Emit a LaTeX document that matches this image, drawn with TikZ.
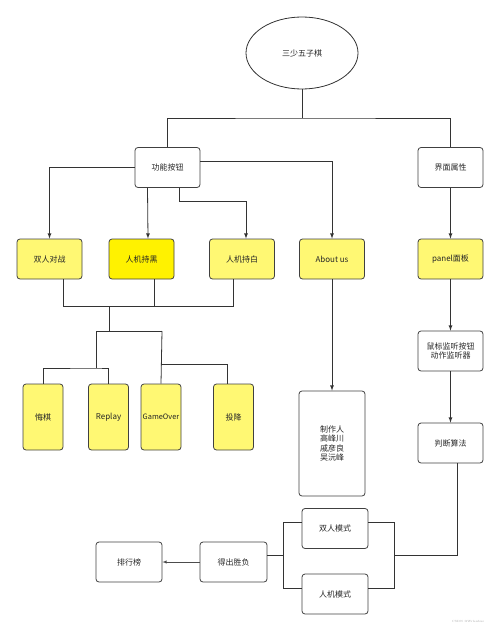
\documentclass[tikz,border=0pt]{standalone}
\usepackage{fontspec}
\newfontfamily\cjk{Noto Sans CJK SC}
\usetikzlibrary{arrows,shapes.geometric}
\begin{document}
\begin{tikzpicture}[x=1pt,y=-1pt,
	box/.style={draw=black!75,line width=0.8pt,rounded corners=3pt,minimum width=65pt,minimum height=40pt,inner sep=1pt,align=center,text=black!85,font=\cjk\fontsize{8}{9.5}\selectfont},
	pale/.style={box,fill=yellow!55},
	bright/.style={box,fill=yellow},
	tall/.style={pale,minimum width=40pt,minimum height=66pt,inner xsep=0pt},
	wire/.style={line width=0.8pt,black!80}]
\useasboundingbox (0,0) rectangle (500,631);
\node[draw=black!80,line width=0.8pt,ellipse,minimum width=112pt,minimum height=72pt,inner sep=0pt,text=black!85,font=\cjk\fontsize{8}{9.5}\selectfont] (game) at (302,53) {三少五子棋};
\node[box] (func) at (167.5,167.5) {功能按钮};
\node[box] (ui) at (450.5,167.5) {界面属性};
\node[pale] (pvp) at (49.5,259) {双人对战};
\node[bright] (black) at (141.5,259) {人机持黑};
\node[pale] (white) at (242,259) {人机持白};
\node[pale] (about) at (332,259) {About us};
\node[pale] (panel) at (450.5,259) {panel面板};
\node[tall] (undo) at (43,417) {悔棋};
\node[tall] (replay) at (108.5,417) {Replay};
\node[tall,text width=40pt,font=\cjk\fontsize{7.4}{9}\selectfont] (over) at (161,417) {GameOver};
\node[tall] (giveup) at (233.5,417) {投降};
\node[box,minimum width=66pt,minimum height=105pt] (makers) at (332,443.5) {制作人\\高峰川\\戚彦良\\吴沅峰};
\node[box] (listen) at (450.5,351) {鼠标监听按钮\\动作监听器};
\node[box] (judge) at (450.5,443) {判断算法};
\node[box,minimum width=66pt] (twop) at (335,528.5) {双人模式};
\node[box,minimum width=66pt] (ai) at (335,594) {人机模式};
\node[box,minimum width=67pt] (result) at (233.5,562) {得出胜负};
\node[box,minimum width=66pt] (rank) at (129,562) {排行榜};
\node[text=black!35,font=\fontsize{3}{4}\selectfont] (mark) at (468,621) {CSDN @Wrlenbus};
\coordinate (split) at (302,118);
\coordinate (hub) at (109,306);
\coordinate (fa) at (96,331);
\coordinate (fb) at (162,331);
\coordinate (ga) at (96,368);
\coordinate (gb) at (162,364);
\coordinate (ja) at (283,555);
\coordinate (jb) at (394,555);
\draw [wire](game)--(split);
\draw [wire](func.north)|-(split)-|(ui.north);
\draw [wire,->,>=latex,](func.west)-|(pvp.north);
\draw [wire,->,>=latex,]([xshift=-20pt]func.south)--([xshift=6.5pt]black.north);
\draw [wire,->,>=latex,]([xshift=12pt]func.south)--++(0,13)-|([xshift=4pt]white.north);
\draw [wire,->,>=latex,]([yshift=6.5pt]func.east)-|(about.north);
\draw [wire,->,>=latex,](ui)--(panel);
\draw [wire,->,>=latex,](about)--(makers);
\draw [wire,->,>=latex,](panel)--(listen);
\draw [wire,->,>=latex,](listen)--(judge);
\draw [wire]([xshift=13.5pt]pvp.south)|-(hub);
\draw [wire]([xshift=-9pt]white.south)|-(hub);
\draw [wire]([xshift=12.5pt]black.south)--++(0,27);
\draw [wire](hub)--(hub |- fa);
\draw [wire](fa)--(fb);
\draw [wire](fa)--(ga);
\draw [wire](undo.north)|-(ga)-|(replay.north);
\draw [wire](fb)--(over.north);
\draw [wire]([xshift=-6.5pt]giveup.north)|-(gb);
\draw [wire]([xshift=6.5pt]judge.south)|-(jb);
\draw [wire]([yshift=6.5pt]twop.east)-|(jb);
\draw [wire]([yshift=6pt]ai.east)-|(jb);
\draw [wire]([yshift=6.5pt]twop.west)-|(ja);
\draw [wire]([yshift=6pt]ai.west)-|(ja);
\draw [wire](ja)--([yshift=7pt]result.east);
\draw [->,>=latex,line width=0.5pt,black!70](result)--(rank);
\end{tikzpicture}
\end{document}
